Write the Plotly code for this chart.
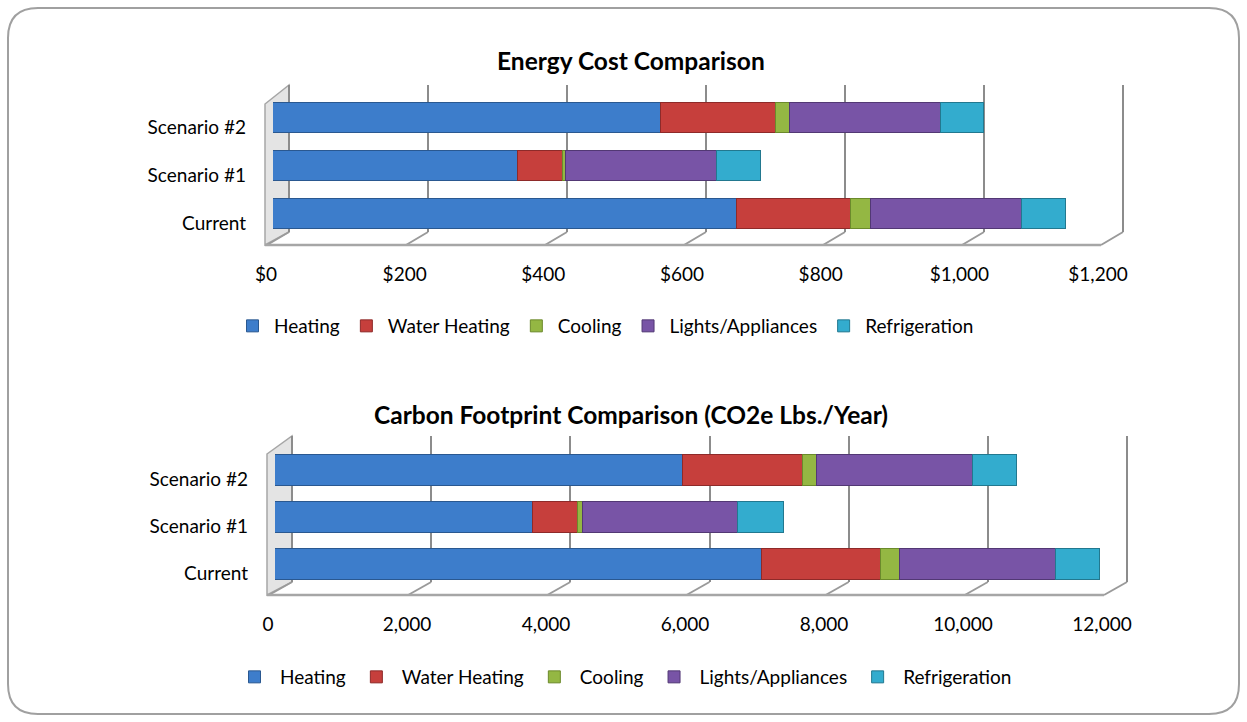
import plotly.graph_objects as go

# ---------------- data ----------------
categories = ["Current", "Scenario #1", "Scenario #2"]
series_names = ["Heating", "Water Heating", "Cooling", "Lights/Appliances", "Refrigeration"]

cost_heating = [669, 353, 560]
cost_water_heating = [164, 65, 165]
cost_cooling = [29, 5, 20]
cost_lights = [218, 218, 218]
cost_refrigeration = [64, 63, 63]
cost_ticks = [0, 200, 400, 600, 800, 1000, 1200]
cost_tick_labels = ["$0", "$200", "$400", "$600", "$800", "$1,000", "$1,200"]

co2_heating = [7003, 3708, 5866]
co2_water_heating = [1712, 656, 1727]
co2_cooling = [278, 63, 201]
co2_lights = [2245, 2240, 2250]
co2_refrigeration = [630, 650, 630]
co2_ticks = [0, 2000, 4000, 6000, 8000, 10000, 12000]
co2_tick_labels = ["0", "2,000", "4,000", "6,000", "8,000", "10,000", "12,000"]

title_cost = "Energy Cost Comparison"
title_co2 = "Carbon Footprint Comparison (CO2e Lbs./Year)"

# ---------------- styles ----------------
W, H = 1247, 722
FONT = "Lato"
colors = ["#3d7dcb", "#c63f3c", "#94b743", "#7854a6", "#33acce"]
edges = ["#2a5890", "#8e2a29", "#6b8a2b", "#523874", "#22788f"]
GRID = "#8c8c8c"


def fx(p):
    return p / W


def fy(p):
    return 1 - p / H


fig = go.Figure()

charts = [
    dict(vals=[cost_heating, cost_water_heating, cost_cooling, cost_lights, cost_refrigeration],
         ticks=cost_ticks, ticktext=cost_tick_labels, title=title_cost, legend="legend",
         gx="x", gy="y", bx="x2", by="y2",
         grid_l=289, grid_r=1123, bar_l=273, bar_r=1105,
         top=85, back=232, front=245, c0=214, c2=118, bh=30,
         wall_front_x=265, wall_top_front=104, title_y=61, legend_y=326, legend_x=231,
         itemwidth=33, tick_shift=-7),
    dict(vals=[co2_heating, co2_water_heating, co2_cooling, co2_lights, co2_refrigeration],
         ticks=co2_ticks, ticktext=co2_tick_labels, title=title_co2, legend="legend2",
         gx="x3", gy="y3", bx="x4", by="y4",
         grid_l=292, grid_r=1127, bar_l=275, bar_r=1109,
         top=436, back=582, front=595, c0=564, c2=470, bh=31,
         wall_front_x=267, wall_top_front=454, title_y=415, legend_y=677, legend_x=229,
         itemwidth=41, tick_shift=-7),
]

layout_axes = {}
shapes = []
annotations = []
legends = {}

for ci, ch in enumerate(charts):
    # invisible trace to create the gridline (back wall) subplot
    fig.add_trace(go.Scatter(x=[], y=[], xaxis=ch["gx"], yaxis=ch["gy"],
                             showlegend=False, hoverinfo="skip"))
    # bars
    for si, name in enumerate(series_names):
        fig.add_trace(go.Bar(
            orientation="h", y=categories, x=ch["vals"][si], name=name,
            marker=dict(color=colors[si], line=dict(color=edges[si], width=1)),
            width=ch["bh"] / ((ch["c0"] - ch["c2"]) / 2),
            xaxis=ch["bx"], yaxis=ch["by"], legend=ch["legend"],
            hovertemplate="%{y}: %{x}<extra>" + name + "</extra>",
        ))

    vmax = ch["ticks"][-1]
    spacing = (ch["c0"] - ch["c2"]) / 2
    ylo = -(ch["front"] - ch["c0"]) / spacing
    yhi = 2 + (ch["c2"] - ch["top"]) / spacing

    gxk = "xaxis" + ch["gx"][1:]
    gyk = "yaxis" + ch["gy"][1:]
    bxk = "xaxis" + ch["bx"][1:]
    byk = "yaxis" + ch["by"][1:]

    # grid axis slightly padded so the edge gridlines are drawn
    gpad_px = 2
    gw = ch["grid_r"] - ch["grid_l"]
    gpad_v = vmax * gpad_px / gw
    layout_axes[gxk] = dict(domain=[fx(ch["grid_l"] - gpad_px), fx(ch["grid_r"] + gpad_px)],
                            range=[-gpad_v, vmax + gpad_v],
                            anchor=ch["gy"], tickvals=ch["ticks"], showticklabels=False,
                            showgrid=True, gridcolor=GRID, gridwidth=2, zeroline=False,
                            showline=False, ticks="", fixedrange=True, automargin=False)
    layout_axes[gyk] = dict(domain=[fy(ch["back"]), fy(ch["top"])], range=[0, 1],
                            anchor=ch["gx"], visible=False, fixedrange=True, automargin=False)
    layout_axes[bxk] = dict(domain=[fx(ch["bar_l"]), fx(ch["bar_r"])], range=[0, vmax],
                            anchor=ch["by"], tickmode="array", tickvals=ch["ticks"],
                            ticktext=ch["ticktext"],
                            showgrid=False, zeroline=False, showline=False,
                            ticks="", ticklabelstandoff=16, ticklabelshift=ch["tick_shift"],
                            tickfont=dict(family=FONT, size=19, color="#000000"),
                            fixedrange=True, automargin=False)
    layout_axes[byk] = dict(domain=[fy(ch["front"]), fy(ch["top"])], range=[ylo, yhi],
                            anchor=ch["bx"], type="category", categoryorder="array",
                            categoryarray=categories, showgrid=False, zeroline=False,
                            showline=False, ticks="", ticklabelstandoff=26,
                            ticklabelshift=9,
                            tickfont=dict(family=FONT, size=19, color="#000000"),
                            fixedrange=True, automargin=False)

    # ---- 3D-ish decoration: left wall, floor edges and diagonal tick marks ----
    gl, gr = ch["grid_l"], ch["grid_r"]
    wfx = ch["wall_front_x"]
    path = "M {} {} L {} {} L {} {} L {} {} Z".format(
        fx(wfx), fy(ch["wall_top_front"]), fx(gl), fy(ch["top"]),
        fx(gl), fy(ch["back"]), fx(wfx), fy(ch["front"]))
    shapes.append(dict(type="path", path=path, xref="paper", yref="paper",
                       fillcolor="#e4e4e4", line=dict(color="#a6a6a6", width=1.5),
                       layer="below"))
    depth = gl - wfx
    for v in ch["ticks"]:
        backx = gl + v * (gr - gl) / vmax
        shapes.append(dict(type="line", xref="paper", yref="paper",
                           x0=fx(backx - depth + 2), y0=fy(ch["front"]),
                           x1=fx(backx), y1=fy(ch["back"]),
                           line=dict(color="#9a9a9a", width=2), layer="below"))
    shapes.append(dict(type="line", xref="paper", yref="paper",
                       x0=fx(wfx), y0=fy(ch["front"]), x1=fx(gr - depth + 2), y1=fy(ch["front"]),
                       line=dict(color="#a6a6a6", width=2.5), layer="below"))

    annotations.append(dict(text="<b>" + ch["title"] + "</b>", x=fx(631), y=fy(ch["title_y"]),
                            xref="paper", yref="paper", showarrow=False,
                            xanchor="center", yanchor="middle",
                            font=dict(family=FONT, size=24.5, color="#000000")))

    legends[ch["legend"]] = dict(
        orientation="h", font=dict(family=FONT, size=19, color="#000000"),
        bgcolor="rgba(0,0,0,0)", traceorder="normal", itemclick=False,
        itemdoubleclick=False, xanchor="left", yanchor="middle",
        x=fx(ch["legend_x"]), y=fy(ch["legend_y"]), itemwidth=ch["itemwidth"])

# rounded outer border
x0b, y0b, x1b, y1b, r = 8, 8, 1239, 714, 30
border = ("M {a} {b} L {c} {b} Q {d} {b} {d} {e} L {d} {f} Q {d} {g} {c} {g} "
          "L {a} {g} Q {h} {g} {h} {f} L {h} {e} Q {h} {b} {a} {b} Z").format(
    a=fx(x0b + r), b=fy(y0b), c=fx(x1b - r), d=fx(x1b), e=fy(y0b + r),
    f=fy(y1b - r), g=fy(y1b), h=fx(x0b))
shapes.append(dict(type="path", path=border, xref="paper", yref="paper",
                   line=dict(color="#a0a0a0", width=2), layer="below"))

fig.update_layout(
    width=W, height=H, autosize=False,
    margin=dict(l=0, r=0, t=0, b=0, pad=0, autoexpand=False),
    paper_bgcolor="#ffffff", plot_bgcolor="rgba(0,0,0,0)",
    barmode="stack", bargap=0,
    font=dict(family=FONT, size=19, color="#000000"),
    shapes=shapes, annotations=annotations,
    **legends,
    **layout_axes,
)

fig.write_html("out.html", config={"displayModeBar": False},
               post_script="document.body.style.margin='0';")
